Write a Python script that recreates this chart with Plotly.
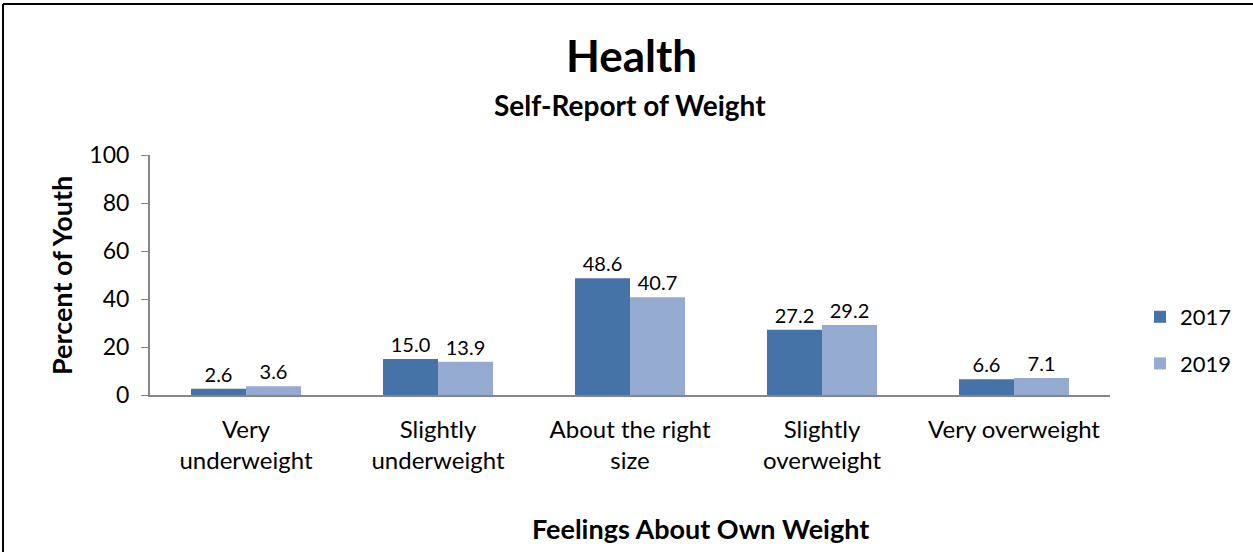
import plotly.graph_objects as go

categories = ["Very<br>underweight", "Slightly<br>underweight", "About the right<br>size",
              "Slightly<br>overweight", "Very overweight"]
values_2017 = [2.6, 15.0, 48.6, 27.2, 6.6]
values_2019 = [3.6, 13.9, 40.7, 29.2, 7.1]
series_names = ["2017", "2019"]
y_ticks = [0, 20, 40, 60, 80, 100]

FONT = "Lato, Calibri, Carlito, sans-serif"
W, H = 1253, 552
ML, MR, MT, MB = 150, 143, 155, 157
PW, PH = W - ML - MR, H - MT - MB


def px_x(px):
    return (px - ML) / PW


def px_y(py):
    return (H - MB - py) / PH


fig = go.Figure()
for name, vals, color in [(series_names[0], values_2017, "#4673A7"),
                          (series_names[1], values_2019, "#95AAD1")]:
    fig.add_trace(go.Bar(
        x=categories, y=vals, name=name, marker_color=color,
        marker_line_width=0,
        text=[f"{v:.1f}" for v in vals], textposition="outside",
        textfont=dict(family=FONT, size=20, color="black"),
        cliponaxis=False, legendgroup=name,
    ))

fig.update_layout(
    width=W, height=H,
    margin=dict(l=ML, r=MR, t=MT, b=MB),
    paper_bgcolor="white", plot_bgcolor="white",
    barmode="group", bargap=0.427, bargroupgap=0,
    font=dict(family=FONT, size=22, color="black"),
    showlegend=True,
    legend=dict(x=px_x(1140), y=px_y(296), xanchor="left", yanchor="top",
                font=dict(family=FONT, size=22), traceorder="grouped",
                tracegroupgap=15, itemwidth=30),
    xaxis=dict(showline=True, linecolor="#868686", linewidth=2, ticks="",
               tickfont=dict(family=FONT, size=24), showgrid=False,
               ticklabelstandoff=12),
    yaxis=dict(range=[0, 100], tickvals=y_ticks, showline=True, linecolor="#868686",
               linewidth=2, ticks="outside", ticklen=7, tickcolor="#868686",
               showgrid=False, zeroline=False, tickfont=dict(family=FONT, size=23),
               ticklabelstandoff=7),
    annotations=[
        dict(text="<b>Health</b>", x=px_x(631), y=px_y(55), xref="paper", yref="paper",
             showarrow=False, font=dict(family=FONT, size=44), xanchor="center",
             yanchor="middle"),
        dict(text="<b>Self-Report of Weight</b>", x=px_x(630), y=px_y(105), xref="paper",
             yref="paper", showarrow=False, font=dict(family=FONT, size=28),
             xanchor="center", yanchor="middle"),
        dict(text="<b>Feelings About Own Weight</b>", x=px_x(700), y=px_y(528),
             xref="paper", yref="paper", showarrow=False,
             font=dict(family=FONT, size=27), xanchor="center", yanchor="middle"),
        dict(text="<b>Percent of Youth</b>", x=px_x(61), y=px_y(276), xref="paper",
             yref="paper", showarrow=False, textangle=-90,
             font=dict(family=FONT, size=27), xanchor="center", yanchor="middle"),
    ],
    shapes=[
        dict(type="line", xref="paper", yref="paper", x0=px_x(3), x1=px_x(W + 2),
             y0=px_y(4), y1=px_y(4), line=dict(color="black", width=2)),
        dict(type="line", xref="paper", yref="paper", x0=px_x(3), x1=px_x(3),
             y0=px_y(4), y1=px_y(H + 2), line=dict(color="black", width=2)),
    ],
)

fig.write_html("out.html")
